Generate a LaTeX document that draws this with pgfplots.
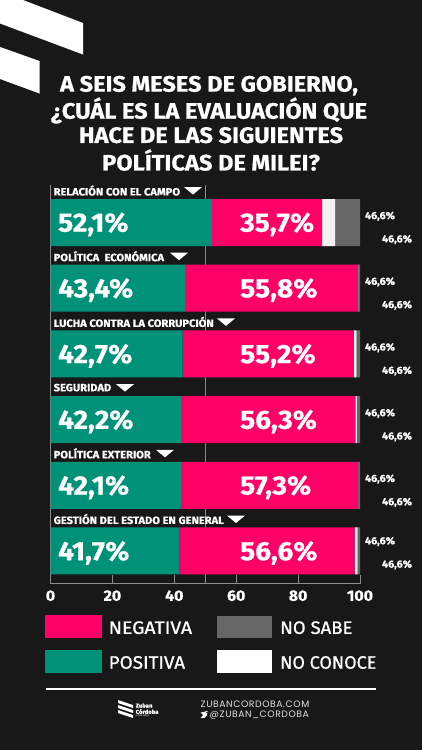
\documentclass[border=0pt]{standalone}
\usepackage{pgfplots}
\usepackage{pgfplotstable}
\pgfplotsset{compat=1.18}
\usepackage{fontspec}
\setmainfont{Fira Sans}[BoldFeatures={FakeBold=0.7,FakeStretch=1.06}]
\newfontfamily\legf{Fira Sans}[UprightFont=*,FakeBold=0.9]
\newfontfamily\foot{Poppins}[LetterSpace=6]
\definecolor{bg}{HTML}{181818}
\definecolor{cpos}{HTML}{009179}
\definecolor{cneg}{HTML}{FF0066}
\definecolor{nosabe}{HTML}{666666}
\definecolor{nocon}{HTML}{F2F2F2}
\definecolor{axisc}{HTML}{8C8C8C}
\pgfplotstableread{
row pos neg nc ns
5 52.1 35.7 4.2 8.0
4 43.4 55.8 0.2 0.6
3 42.7 55.2 1.0 1.1
2 42.2 56.3 0.5 1.0
1 42.1 57.3 0.0 0.6
0 41.7 56.6 0.9 0.8
}\datatable
\begin{document}
\begin{tikzpicture}[x=1pt,y=-1pt,
  cat/.style={anchor=west,inner sep=0pt,text=white,font=\fontsize{10.5}{12}\selectfont\bfseries},
  big/.style={anchor=west,inner sep=0pt,text=white,font=\fontsize{26.5}{28}\selectfont\bfseries},
  sm/.style={anchor=center,inner sep=0pt,text=white,font=\fontsize{10.2}{12}\selectfont\bfseries},
  ttl/.style={anchor=center,inner sep=0pt,text=white,font=\fontsize{22.3}{26}\selectfont\bfseries},
  leg/.style={anchor=west,inner sep=0pt,text=white,font=\fontsize{18}{22}\selectfont\legf},
]
\useasboundingbox (0,0) rectangle (422,750);
\fill[bg] (0,0) rectangle (422,750);
% corner stripes
\fill[white] (0,0)--(23,0)--(83,23)--(83,54.5)--(0,23.5)--cycle;
\fill[white] (0,47)--(39.5,61)--(39.5,93.5)--(0,79)--cycle;
% title
\node[ttl] at (209,85.7) {A SEIS MESES DE GOBIERNO,};
\node[ttl] at (209,110.5) {¿CUÁL ES LA EVALUACIÓN QUE};
\node[ttl] at (211,135.2) {HACE DE LAS SIGUIENTES};
\node[ttl] at (211,160) {POLÍTICAS DE MILEI?};
% chart
\begin{axis}[
  at={(50.5pt,-583.7pt)}, anchor=south west,
  scale only axis, width=309.5pt, height=398.7pt,
  xbar stacked, bar width=47pt,
  xmin=0, xmax=100, ymin=-0.498, ymax=5.571,
  axis x line=bottom, axis y line=left,
  axis line style={-,draw=axisc,line width=0.7pt},
  ytick=\empty,
  xtick={0,20,40,60,80,100},
  xticklabels={0,20,40,60,80,100},
  extra x ticks={50},
  extra x tick labels={},
  extra x tick style={grid=major,grid style={draw=axisc,line width=0.6pt}},
  tick align=inside, major tick length=8.7pt,
  tick style={draw=axisc,line width=0.7pt},
  xticklabel style={text=white,font=\fontsize{15}{16}\selectfont\bfseries,inner sep=0pt,yshift=-6.5pt},
  clip=false,
]
\addplot[fill=cpos,draw=none] table[x=pos,y=row] {\datatable};
\addplot[fill=cneg,draw=none] table[x=neg,y=row] {\datatable};
\addplot[fill=nocon,draw=none] table[x=nc,y=row] {\datatable};
\addplot[fill=nosabe,draw=none] table[x=ns,y=row] {\datatable};
\end{axis}
% category labels
\foreach \t/\yy/\tx in {
  RELACIÓN CON EL CAMPO/190.5/184,
  POLÍTICA\ \ ECONÓMICA/256.2/170,
  LUCHA CONTRA LA CORRUPCIÓN/321.9/217,
  SEGURIDAD/387.6/116,
  POLÍTICA EXTERIOR/453.3/156,
  GESTIÓN DEL ESTADO EN GENERAL/519/227}{
  \node[cat] at (53.5,\yy) {\t};
  \fill[white] (\tx,\yy-3.5)--(\tx+18,\yy-3.5)--(\tx+9,\yy+4)--cycle;
}
% value labels
\node[big] at (58,224.5) {52,1\%}; \node[big] at (240,224.5) {35,7\%};
\node[big] at (58,290.2) {43,4\%}; \node[big] at (240,290.2) {55,8\%};
\node[big] at (58,355.9) {42,7\%}; \node[big] at (240,355.9) {55,2\%};
\node[big] at (58,421.6) {42,2\%}; \node[big] at (240,421.6) {56,3\%};
\node[big] at (58,487.3) {42,1\%}; \node[big] at (240,487.3) {57,3\%};
\node[big] at (58,553) {41,7\%}; \node[big] at (240,553) {56,6\%};
\foreach \yy in {216.3,282,347.7,413.4,479.1,541.5}{
  \node[sm] at (380,\yy) {46,6\%};
  \node[sm] at (397,\yy+23.3) {46,6\%};
}
% legend
\fill[cneg] (45,615) rectangle (101.5,637.7);
\fill[cpos] (45,649.7) rectangle (101.5,672.7);
\fill[nosabe] (217.3,615.5) rectangle (272.3,637.5);
\fill[white] (217.3,650) rectangle (272.3,672.5);
\node[leg] at (108.5,627.7) {\scalebox{1.08}[1]{NEGATIVA}};
\node[leg] at (108.5,662.5) {\scalebox{1.05}[1]{POSITIVA}};
\node[leg] at (280,627.7) {\scalebox{1.03}[1]{NO SABE}};
\node[leg] at (280,662.5) {NO CONOCE};
% rule
\fill[white] (45.5,687.5) rectangle (376,690);
% footer logo
\fill[white] (118,700)--(133,705)--(133,708)--(118,703)--cycle;
\fill[white] (118,705)--(133,710)--(133,713)--(118,708)--cycle;
\fill[white] (118,710)--(133,715)--(133,718)--(118,713)--cycle;
\node[anchor=west,inner sep=0pt,text=white,font=\fontsize{5.6}{6}\selectfont\bfseries] at (135.5,705.5) {Zuban};
\node[anchor=west,inner sep=0pt,text=white,font=\fontsize{5.6}{6}\selectfont\bfseries] at (135.5,711.5) {Córdoba};
\node[anchor=west,inner sep=0pt,text=white,font=\fontsize{2.5}{3}\selectfont] at (135.5,716) {y Asociados};
\node[anchor=west,inner sep=0pt,text=white!88!black,font=\foot\fontsize{9.3}{10}\selectfont] at (200.5,704.3) {ZUBANCORDOBA.COM};
\node[anchor=west,inner sep=0pt,text=white!88!black,font=\foot\fontsize{9.3}{10}\selectfont] at (209.5,714.7) {@ZUBAN\_CORDOBA};
% bird
\fill[white] (200.5,712.5) .. controls (202,715) and (204,715.5) .. (205,714.5) .. controls (205.5,712.5) and (206.5,712) .. (208,711.5) .. controls (206.5,711.2) and (205.5,710.8) .. (204.5,711.8) .. controls (203,712) and (202,712) .. (200.5,712.5)--cycle;
\fill[white] (200.5,717.5) .. controls (203,718.8) and (207,718) .. (207.5,713) -- (203,713.5) .. controls (203.5,715.5) and (202.5,717) .. (200.5,717.5)--cycle;
\end{tikzpicture}
\end{document}
